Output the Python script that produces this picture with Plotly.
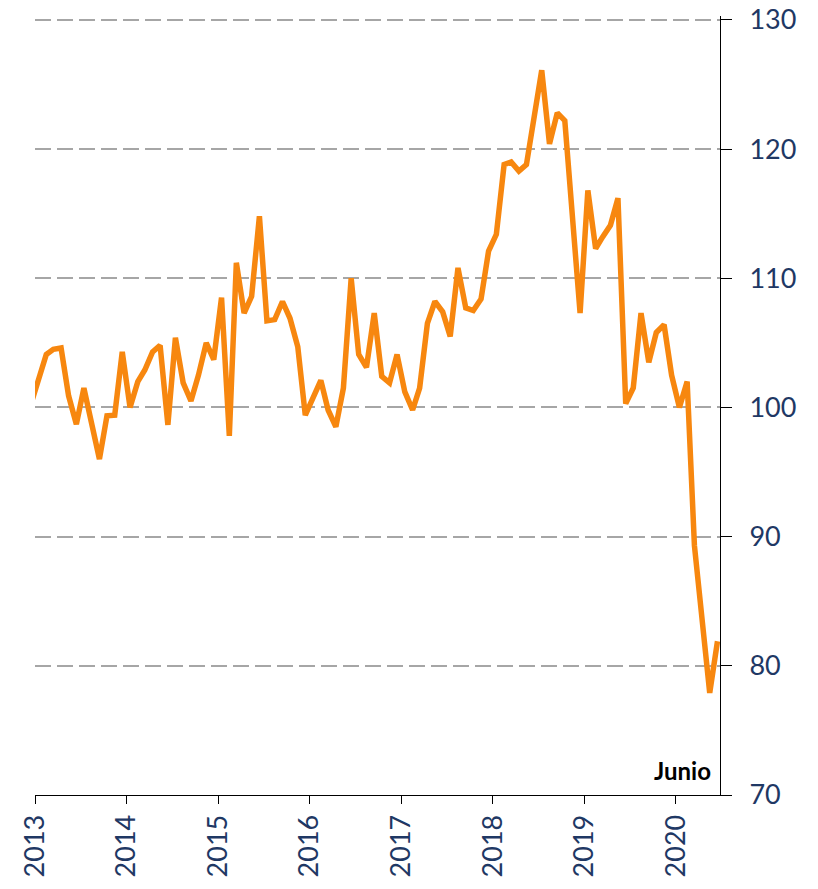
import pandas as pd
import plotly.graph_objects as go

# Monthly index values (Dec 2012 .. Jun 2020)
start_month = "2012-12-01"
values = [
    100.2,
    102.0, 104.1, 104.5, 104.6, 100.9, 98.7, 101.5, 98.8, 96.0, 99.35, 99.4, 104.3,
    100.0, 102.0, 102.9, 104.3, 104.8, 98.65, 105.4, 101.9, 100.5, 102.5, 105.0, 103.7,
    108.5, 97.8, 111.2, 107.3, 108.6, 114.8, 106.7, 106.8, 108.2, 106.9, 104.7, 99.4,
    100.7, 102.1, 99.8, 98.5, 101.5, 110.0, 104.1, 103.1, 107.3, 102.4, 101.9, 104.1,
    101.2, 99.8, 101.5, 106.5, 108.2, 107.4, 105.5, 110.8, 107.7, 107.5, 108.4, 112.1,
    113.4, 118.8, 119.0, 118.3, 118.8, 122.4, 126.1, 120.4, 122.8, 122.2, 114.8, 107.3,
    116.8, 112.3, 113.2, 114.1, 116.2, 100.3, 101.5, 107.3, 103.5, 105.8, 106.4, 102.5,
    100.0, 102.0, 89.3, 83.8, 77.9, 81.9,
]
dates = pd.date_range(start_month, periods=len(values), freq="MS") + pd.Timedelta(days=14)

year_ticks = ["2013", "2014", "2015", "2016", "2017", "2018", "2019", "2020"]
y_ticks = [70, 80, 90, 100, 110, 120, 130]
last_label = "Junio"

navy = "#1F3864"

fig = go.Figure()
fig.add_trace(go.Scatter(
    x=dates, y=values, mode="lines",
    line=dict(color="#F7870F", width=5.5),
    hoverinfo="skip", showlegend=False,
))

fig.update_layout(
    width=810, height=881,
    margin=dict(l=27, r=98, t=8, b=94),
    paper_bgcolor="white", plot_bgcolor="white",
    font=dict(family="Lato", color=navy),
    xaxis=dict(
        type="date",
        range=["2013-01-01", "2020-06-25"],
        tickvals=[f"{y}-01-01" for y in year_ticks],
        ticktext=year_ticks,
        tickangle=-90,
        tickfont=dict(size=27, color=navy, family="Lato"),
        ticks="outside", ticklen=8, tickcolor="black", tickwidth=1,
        showline=True, linecolor="black", linewidth=1,
        showgrid=False, zeroline=False, automargin=False,
    ),
    yaxis=dict(
        side="right",
        range=[70, 130.3],
        tickvals=y_ticks,
        ticktext=[str(v) for v in y_ticks],
        tickfont=dict(size=27, color=navy, family="Lato"),
        ticks="outside", ticklen=11, tickcolor="black", tickwidth=1,
        ticklabelstandoff=12, ticklabeloverflow="allow",
        showline=True, linecolor="black", linewidth=1,
        showgrid=True, gridcolor="#A6A6A6", gridwidth=2, griddash="16px,6px",
        zeroline=False, automargin=False,
    ),
    annotations=[dict(
        text=f"<b>{last_label}</b>", xref="paper", yref="paper",
        x=0.99, y=0.01, xanchor="right", yanchor="bottom",
        showarrow=False, font=dict(size=24, color="black", family="Lato"),
    )],
)

fig.write_html("out.html")
